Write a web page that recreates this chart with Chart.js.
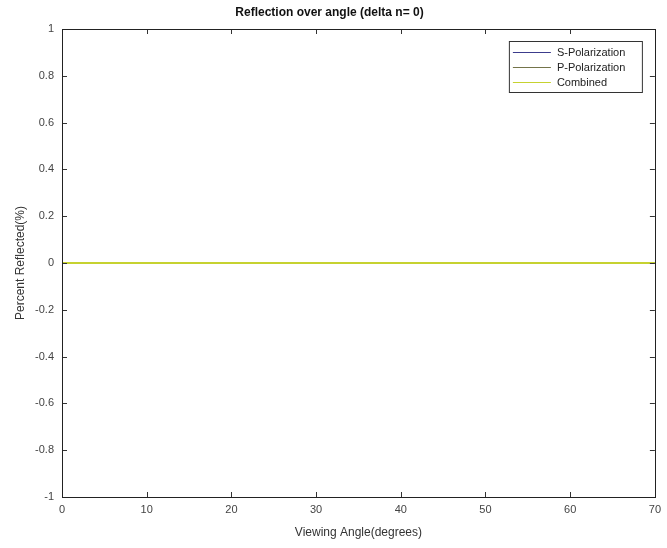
<!DOCTYPE html>
<html>
<head>
<meta charset="utf-8">
<script src="https://cdn.jsdelivr.net/npm/chart.js@4/dist/chart.umd.min.js"></script>
<style>
  html, body { margin: 0; padding: 0; background: #fff; }
  #wrap { width: 667px; height: 548px; }
</style>
</head>
<body>
<div id="wrap"><canvas id="c" width="667" height="548"></canvas></div>
<script>
// Viewing angles (degrees) and reflected fractions for each polarization
const angles = [0, 5, 10, 15, 20, 25, 30, 35, 40, 45, 50, 55, 60, 65, 70];
const sPolarization = [0, 0, 0, 0, 0, 0, 0, 0, 0, 0, 0, 0, 0, 0, 0];
const pPolarization = [0, 0, 0, 0, 0, 0, 0, 0, 0, 0, 0, 0, 0, 0, 0];
const combined = [0, 0, 0, 0, 0, 0, 0, 0, 0, 0, 0, 0, 0, 0, 0];
const seriesNames = ['S-Polarization', 'P-Polarization', 'Combined'];
const seriesColors = ['#3c3c8c', '#74744a', '#c6d230'];
const xTicks = [0, 10, 20, 30, 40, 50, 60, 70];
const yTicks = [-1, -0.8, -0.6, -0.4, -0.2, 0, 0.2, 0.4, 0.6, 0.8, 1];

const FONT = 'Liberation Sans, Arial, Helvetica, sans-serif';
const toPoints = (vals) => angles.map((a, i) => ({ x: a, y: vals[i] }));

// Box frame, inward tick marks on all sides, and a boxed legend inside the axes
const framePlugin = {
  id: 'frame',
  afterDatasetsDraw(chart) {
    const { ctx, chartArea: a, scales } = chart;
    const xs = scales.x, ys = scales.y;
    ctx.save();
    ctx.strokeStyle = '#333';
    ctx.lineWidth = 1;
    ctx.beginPath();
    const tl = 5;
    xTicks.forEach(v => {
      const px = Math.round(xs.getPixelForValue(v)) + 0.5;
      ctx.moveTo(px, a.bottom); ctx.lineTo(px, a.bottom - tl);
      ctx.moveTo(px, a.top); ctx.lineTo(px, a.top + tl);
    });
    yTicks.forEach(v => {
      const py = Math.round(ys.getPixelForValue(v)) + 0.5;
      ctx.moveTo(a.left, py); ctx.lineTo(a.left + tl, py);
      ctx.moveTo(a.right, py); ctx.lineTo(a.right - tl, py);
    });
    ctx.stroke();
    ctx.strokeStyle = '#222';
    ctx.strokeRect(Math.round(a.left) + 0.5, Math.round(a.top) + 0.5,
                   Math.round(a.right - a.left), Math.round(a.bottom - a.top));

    // legend
    const bx = a.right - 146, by = a.top + 12, bw = 133, bh = 51;
    ctx.fillStyle = '#fff';
    ctx.fillRect(bx, by, bw, bh);
    ctx.strokeStyle = '#333';
    ctx.strokeRect(bx + 0.5, by + 0.5, bw, bh);
    ctx.font = '11px ' + FONT;
    ctx.textBaseline = 'middle';
    ctx.textAlign = 'left';
    chart.data.datasets.forEach((ds, i) => {
      const ry = by + 11 + i * 15;
      ctx.strokeStyle = ds.borderColor;
      ctx.lineWidth = 1;
      ctx.beginPath();
      ctx.moveTo(bx + 4, ry + 0.5); ctx.lineTo(bx + 42, ry + 0.5);
      ctx.stroke();
      ctx.fillStyle = '#222';
      ctx.fillText(ds.label, bx + 48, ry + 1);
    });
    ctx.restore();
  }
};

new Chart(document.getElementById('c'), {
  type: 'line',
  data: {
    datasets: [
      { label: seriesNames[0], data: toPoints(sPolarization), borderColor: seriesColors[0], order: 3, borderWidth: 1 },
      { label: seriesNames[1], data: toPoints(pPolarization), borderColor: seriesColors[1], order: 2, borderWidth: 1 },
      { label: seriesNames[2], data: toPoints(combined), borderColor: seriesColors[2], order: 1, borderWidth: 1.8 }
    ].map(d => Object.assign(d, { pointRadius: 0, fill: false, tension: 0 }))
  },
  options: {
    responsive: false,
    animation: false,
    layout: { padding: { left: 0, right: 8, top: 0, bottom: 0 } },
    plugins: {
      legend: { display: false },
      tooltip: { enabled: false },
      title: {
        display: true,
        text: 'Reflection over angle (delta n= 0)',
        color: '#111',
        font: { family: FONT, size: 12, weight: 'bold' },
        padding: { top: 5, bottom: 9.6 }
      }
    },
    scales: {
      x: {
        type: 'linear',
        min: 0, max: 70,
        afterBuildTicks: s => { s.ticks = xTicks.map(v => ({ value: v })); },
        afterFit: s => { s.height = 51; },
        grid: { display: false, drawTicks: false },
        border: { display: false },
        ticks: { color: '#444', font: { family: FONT, size: 11 }, padding: 6, maxRotation: 0 },
        title: { display: true, text: 'Viewing Angle(degrees)', color: '#333',
                 font: { family: FONT, size: 12 }, padding: { top: 2, bottom: 8 } }
      },
      y: {
        type: 'linear',
        min: -1, max: 1,
        afterBuildTicks: s => { s.ticks = yTicks.map(v => ({ value: v })); },
        afterFit: s => { s.width = 62; },
        grid: { display: false, drawTicks: false },
        border: { display: false },
        ticks: { color: '#444', font: { family: FONT, size: 11 }, padding: 8,
                 callback: v => String(Math.round(v * 10) / 10) },
        title: { display: true, text: 'Percent Reflected(%)', color: '#333',
                 font: { family: FONT, size: 12 }, padding: { top: 13, bottom: 4 } }
      }
    }
  },
  plugins: [framePlugin]
});
</script>
</body>
</html>
